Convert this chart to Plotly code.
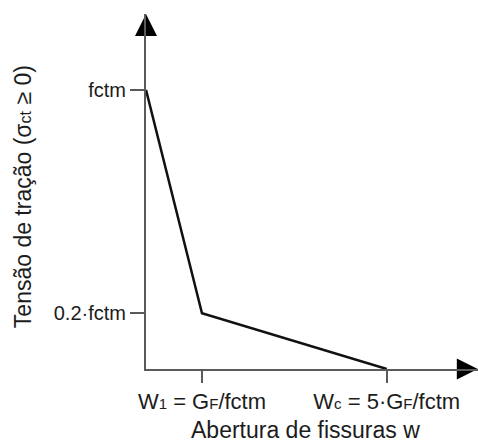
import plotly.graph_objects as go

# Schematic bilinear softening law
w_points = [0, 1, 4.3]          # crack opening (schematic positions: 0, w1, wc)
sigma_points = [1.0, 0.2, 0.0]  # tensile stress as a fraction of fctm

x_tick_vals = [1, 4.3]
x_tick_text = [
    "W<span style='font-size:15px'>1</span> = G<span style='font-size:15px'>F</span>/fctm",
    "W<span style='font-size:15px'>c</span> = 5·G<span style='font-size:15px'>F</span>/fctm",
]
y_tick_vals = [0.2, 1.0]
y_tick_text = ["0.2·fctm", "fctm"]

x_max = 5.93
y_max = 1.272

x_title = "Abertura de fissuras w"
y_title = "Tensão de tração (σ<span style='font-size:16px'>ct</span> ≥ 0)"

FONT = "Liberation Sans, Arial, sans-serif"
AXIS_COLOR = "#5a5a5a"
TEXT_COLOR = "#1c1c1c"

fig = go.Figure()

fig.add_trace(go.Scatter(
    x=w_points, y=sigma_points, mode="lines",
    line=dict(color="#111111", width=2.5),
    hoverinfo="skip", showlegend=False, cliponaxis=False,
))

# arrow heads at the axis ends
fig.add_trace(go.Scatter(
    x=[0], y=[y_max], mode="markers",
    marker=dict(symbol="arrow-up", size=22, color="#000000", line=dict(width=0)),
    hoverinfo="skip", showlegend=False, cliponaxis=False,
))
fig.add_trace(go.Scatter(
    x=[x_max * 0.9995], y=[0], mode="markers",
    marker=dict(symbol="arrow-right", size=21, color="#000000", line=dict(width=0)),
    hoverinfo="skip", showlegend=False, cliponaxis=False,
))

fig.update_xaxes(
    range=[0, x_max], showgrid=False, zeroline=False,
    showline=True, linecolor=AXIS_COLOR, linewidth=2,
    ticks="outside", ticklen=12, tickwidth=1.5, tickcolor=AXIS_COLOR,
    tickvals=x_tick_vals, ticktext=x_tick_text,
    tickfont=dict(family=FONT, size=22, color=TEXT_COLOR),
    fixedrange=True,
)
fig.update_yaxes(
    range=[0, y_max], showgrid=False, zeroline=False,
    showline=True, linecolor=AXIS_COLOR, linewidth=2,
    ticks="outside", ticklen=14, tickwidth=1.5, tickcolor=AXIS_COLOR,
    tickvals=y_tick_vals, ticktext=y_tick_text,
    tickfont=dict(family=FONT, size=20, color=TEXT_COLOR),
    fixedrange=True,
)

fig.add_annotation(
    text=x_title, xref="paper", yref="paper", x=0.480, y=-0.172,
    showarrow=False, xanchor="center", yanchor="middle",
    font=dict(family=FONT, size=23, color=TEXT_COLOR),
)
fig.add_annotation(
    text=y_title, xref="paper", yref="paper", x=-0.370, y=0.4845,
    showarrow=False, xanchor="center", yanchor="middle", textangle=-90,
    font=dict(family=FONT, size=23, color=TEXT_COLOR),
)

fig.update_layout(
    width=478, height=447,
    margin=dict(l=146, r=0, t=14, b=78, autoexpand=False),
    plot_bgcolor="white", paper_bgcolor="white",
    showlegend=False,
)

fig.write_html(
    "out.html",
    config={"displayModeBar": False},
    post_script="document.body.style.margin='0px';document.body.style.overflow='hidden';",
)
